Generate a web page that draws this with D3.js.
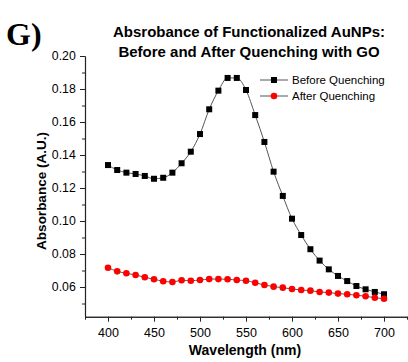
<!DOCTYPE html>
<html>
<head>
<meta charset="utf-8">
<script src="https://cdn.jsdelivr.net/npm/d3@7"></script>
<style>
  html, body { margin: 0; padding: 0; background: #fff; }
  svg { display: block; }
  text { font-family: "Liberation Sans", Arial, sans-serif; fill: #000; }
</style>
</head>
<body>
<div id="chart"></div>
<script>
const wavelengths = [400,410,420,430,440,450,460,470,480,490,500,510,520,530,540,550,560,570,580,590,600,610,620,630,640,650,660,670,680,690,700];
const beforeQuenching = [0.1339,0.1309,0.1293,0.1285,0.1273,0.1256,0.1262,0.1293,0.1350,0.1420,0.1527,0.1677,0.1790,0.1867,0.1867,0.1794,0.1642,0.1479,0.1299,0.1152,0.1014,0.0915,0.0829,0.0760,0.0707,0.0667,0.0636,0.0606,0.0586,0.0570,0.0556];
const afterQuenching = [0.0717,0.0695,0.0683,0.0673,0.0659,0.0647,0.0635,0.0630,0.0641,0.0638,0.0642,0.0648,0.0648,0.0647,0.0642,0.0638,0.0626,0.0612,0.0602,0.0596,0.0588,0.0582,0.0578,0.0570,0.0566,0.0560,0.0556,0.0550,0.0544,0.0535,0.0529];
const xTicks = [400,450,500,550,600,650,700];
const yTicks = [0.06,0.08,0.10,0.12,0.14,0.16,0.18,0.20];
const seriesNames = ["Before Quenching","After Quenching"];
const titleLines = ["Absrobance of Functionalized AuNPs:","Before and After Quenching with GO"];

const W = 408, H = 362;
const svg = d3.select("#chart").append("svg").attr("width", W).attr("height", H);

const x = d3.scaleLinear().domain([375, 725]).range([85, 407]);
const y = d3.scaleLinear().domain([0.042, 0.20]).range([316.7, 56]);

// axes
const xAxis = svg.append("g").attr("transform", `translate(0,${y.range()[0]})`)
  .call(d3.axisBottom(x).tickValues(xTicks).tickFormat(d3.format("d")).tickSize(5).tickSizeOuter(0));
const xMinor = svg.append("g").attr("transform", `translate(0,${y.range()[0]})`)
  .call(d3.axisBottom(x).tickValues(d3.range(375, 726, 25).filter(v => !xTicks.includes(v))).tickFormat("").tickSize(3).tickSizeOuter(0));
const yAxis = svg.append("g").attr("transform", `translate(${x.range()[0]},0)`)
  .call(d3.axisLeft(y).tickValues(yTicks).tickFormat(d3.format(".2f")).tickSize(5).tickSizeOuter(0));
const yMinor = svg.append("g").attr("transform", `translate(${x.range()[0]},0)`)
  .call(d3.axisLeft(y).tickValues(d3.range(0.05, 0.2, 0.02)).tickFormat("").tickSize(3).tickSizeOuter(0));

[xAxis, xMinor, yAxis, yMinor].forEach(g => {
  g.selectAll("path.domain").attr("stroke", "#222").attr("stroke-width", 1.1);
  g.selectAll(".tick line").attr("stroke", "#222").attr("stroke-width", 1);
});
xAxis.selectAll(".tick text").attr("font-size", 12.5).attr("dy", "0.95em").style("font-family", "Liberation Sans, Arial, sans-serif").attr("fill", "#111");
yAxis.selectAll(".tick text").attr("font-size", 12.3).attr("dx", "-0.1em").style("font-family", "Liberation Sans, Arial, sans-serif").attr("fill", "#111");

// axis titles
svg.append("text").attr("x", 245).attr("y", 355).attr("text-anchor", "middle")
  .attr("font-size", 14).attr("font-weight", "bold").text("Wavelength (nm)");
svg.append("text").attr("transform", "translate(46,191) rotate(-90)").attr("text-anchor", "middle")
  .attr("font-size", 13.5).attr("font-weight", "bold").text("Absorbance (A.U.)");

// title
titleLines.forEach((t, i) => {
  svg.append("text").attr("x", 249).attr("y", 37 + i * 19.5).attr("text-anchor", "middle")
    .attr("font-size", 15).attr("font-weight", "bold").text(t);
});

// panel letter
svg.append("text").attr("x", 6).attr("y", 45).style("font-family", "Liberation Serif, 'Times New Roman', serif")
  .attr("font-size", 32).attr("font-weight", "bold").text("G)");

// lines
const line = d3.line().x(d => x(d[0])).y(d => y(d[1])).curve(d3.curveMonotoneX);
const before = wavelengths.map((w, i) => [w, beforeQuenching[i]]);
const after = wavelengths.map((w, i) => [w, afterQuenching[i]]);

svg.append("path").datum(before).attr("d", line).attr("fill", "none").attr("stroke", "#555").attr("stroke-width", 1);
svg.append("path").datum(after).attr("d", line).attr("fill", "none").attr("stroke", "#555").attr("stroke-width", 1);

const sq = 6;
svg.append("g").selectAll("rect").data(before).join("rect")
  .attr("x", d => x(d[0]) - sq / 2).attr("y", d => y(d[1]) - sq / 2)
  .attr("width", sq).attr("height", sq).attr("fill", "#000");
svg.append("g").selectAll("circle").data(after).join("circle")
  .attr("cx", d => x(d[0])).attr("cy", d => y(d[1])).attr("r", 3.3).attr("fill", "#ff0000");

// legend
const leg = svg.append("g");
seriesNames.forEach((name, i) => {
  const ly = 80 + i * 16;
  leg.append("line").attr("x1", 260).attr("x2", 288).attr("y1", ly).attr("y2", ly).attr("stroke", "#555").attr("stroke-width", 1);
  if (i === 0) {
    leg.append("rect").attr("x", 274 - sq / 2).attr("y", ly - sq / 2).attr("width", sq).attr("height", sq).attr("fill", "#000");
  } else {
    leg.append("circle").attr("cx", 274).attr("cy", ly).attr("r", 3.3).attr("fill", "#ff0000");
  }
  leg.append("text").attr("x", 292).attr("y", ly).attr("dy", "0.35em").attr("font-size", 11.5).text(name);
});
</script>
</body>
</html>
